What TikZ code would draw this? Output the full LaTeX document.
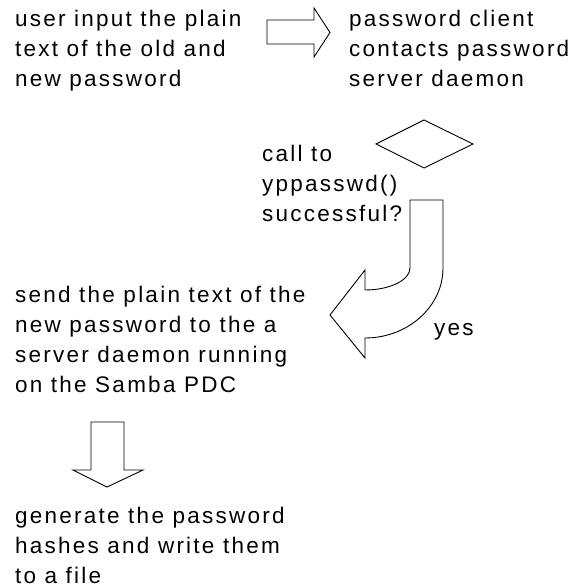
\documentclass[tikz,border=0pt]{standalone}
\usepackage{fontspec}
\newfontfamily\diagfont{Liberation Sans}[LetterSpace=10]
\begin{document}
\begin{tikzpicture}[x=1pt,y=-1pt,
  txt/.style={anchor=base west,inner sep=0pt,font=\diagfont\fontsize{22.5}{30}\selectfont},
  shp/.style={draw=black,line width=0.9pt,line join=miter,fill=white}]
\useasboundingbox (0,0) rectangle (582,588);
\node[txt] (userin) at (15,27) {\begin{tabular}[t]{@{}l@{}}user input the plain\\text of the old and\\new password\end{tabular}};
\node[txt] (client) at (349,27) {\begin{tabular}[t]{@{}l@{}}password client\\contacts password\\server daemon\end{tabular}};
\node[txt] (callto) at (262,161) {\begin{tabular}[t]{@{}l@{}}call to\\yppasswd()\\successful?\end{tabular}};
\node[txt] (send) at (15,302) {\begin{tabular}[t]{@{}l@{}}send the plain text of the\\new password to the a\\server daemon running\\on the Samba PDC\end{tabular}};
\node[txt] (gen) at (15,523) {\begin{tabular}[t]{@{}l@{}}generate the password\\hashes and write them\\to a file\end{tabular}};
\node[txt] (yes) at (434,335) {yes};
% right block arrow
\draw[shp] (267,20) -- (314,20) -- (314,8) -- (330,32.5) -- (314,57) -- (314,44) -- (267,44) -- cycle;
% decision diamond
\draw[shp] (376,144) -- (424,120) -- (473,144) -- (424,168) -- cycle;
% curved block arrow
\draw[shp] (410,200) -- (443,200) -- (443,268)
  .. controls (443,306.5) and (408,338) .. (365,338)
  -- (365,358) -- (330,315) -- (365,270) -- (365,290)
  .. controls (390,290) and (410,280) .. (410,268) -- cycle;
% down block arrow
\draw[shp] (91,422) -- (124,422) -- (124,470) -- (143,470) -- (107,487) -- (73,470) -- (91,470) -- cycle;
\end{tikzpicture}
\end{document}
